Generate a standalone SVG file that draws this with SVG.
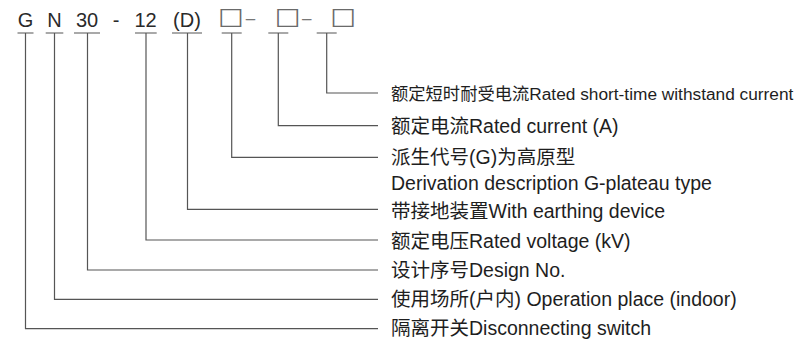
<svg xmlns="http://www.w3.org/2000/svg" width="804" height="345" viewBox="0 0 804 345">
<style>
.code{font-family:"Liberation Sans","Noto Sans",sans-serif;font-size:20px;fill:#2a2a2a;text-anchor:middle}
.box{font-family:"DejaVu Sans",sans-serif;font-size:23px;fill:#6a6a6a;text-anchor:middle}
.thin{font-family:"Liberation Sans",sans-serif;font-size:17px;fill:#777;text-anchor:middle}
.lbl{font-family:"Liberation Sans","Noto Sans CJK SC",sans-serif;font-size:19.5px;fill:#1e1e1e}
.ln{fill:none;stroke:#555;stroke-width:1.2}
</style>
<rect width="804" height="345" fill="#fff"/>
<g id="code">
<g id="c-G"><text class="code" x="25.5" y="27">G</text></g>
<g id="c-N"><text class="code" x="54.5" y="27">N</text></g>
<g id="c-30"><text class="code" x="87" y="27">30</text></g>
<g id="c-dash"><text class="code" x="116" y="27">-</text></g>
<g id="c-12"><text class="code" x="145.5" y="27">12</text></g>
<g id="c-D"><text class="code" x="187" y="27">(D)</text></g>
<g id="c-b1"><text class="box" transform="translate(231 23.5) scale(1.2 1)">□</text><text class="thin" x="250.5" y="24">–</text></g>
<g id="c-b2"><text class="box" transform="translate(287.7 23.5) scale(1.2 1)">□</text><text class="thin" x="306.7" y="24">–</text></g>
<g id="c-b3"><text class="box" transform="translate(343.3 23.5) scale(1.2 1)">□</text></g>
</g>
<g id="connectors">
<path class="ln" d="M17.5 33H33.5M25.5 33V328.7H378"/>
<path class="ln" d="M45.7 33H63.3M54.5 33V299.3H378"/>
<path class="ln" d="M74 33H100M87.5 33V270H378"/>
<path class="ln" d="M135 33H156.7M146 33V240H378"/>
<path class="ln" d="M172 33H202M187.5 33V209.3H378"/>
<path class="ln" d="M221.7 33H241.7M231.7 33V157.3H378"/>
<path class="ln" d="M268.3 33H288.3M278.3 33V125.7H378"/>
<path class="ln" d="M316.7 33H336.7M326.7 33V93H378"/>
</g>
<g id="labels">
<g id="l-current-st"><text class="lbl" x="391" y="99.5" style="font-size:17.3px">额定短时耐受电流Rated short-time withstand current</text></g>
<g id="l-current"><text class="lbl" x="391" y="133">额定电流Rated current (A)</text></g>
<g id="l-deriv"><text class="lbl" x="391" y="164">派生代号(G)为高原型</text><text class="lbl" x="391" y="190">Derivation description G-plateau type</text></g>
<g id="l-earth"><text class="lbl" x="391" y="218">带接地装置With earthing device</text></g>
<g id="l-voltage"><text class="lbl" x="391" y="248">额定电压Rated voltage (kV)</text></g>
<g id="l-design"><text class="lbl" x="391" y="277">设计序号Design No.</text></g>
<g id="l-place"><text class="lbl" x="391" y="306">使用场所(户内) Operation place (indoor)</text></g>
<g id="l-switch"><text class="lbl" x="391" y="335">隔离开关Disconnecting switch</text></g>
</g>
</svg>
